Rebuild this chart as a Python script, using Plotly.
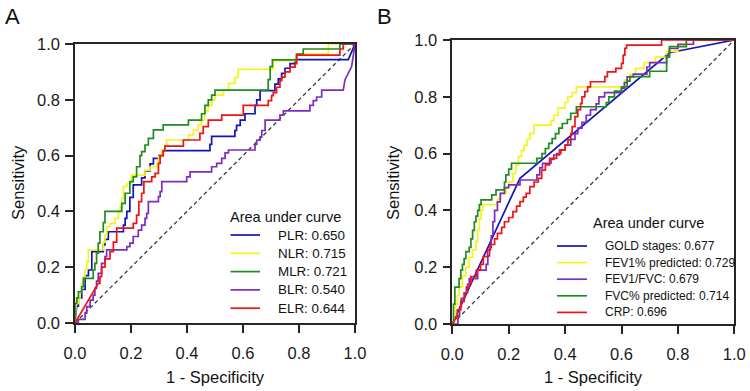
import plotly.graph_objects as go
from plotly.subplots import make_subplots

# ---------------- data (1 - specificity, sensitivity) ----------------
panel_a_names = ["PLR: 0.650", "NLR: 0.715", "MLR: 0.721", "BLR: 0.540", "ELR: 0.644"]
panel_b_names = ["GOLD stages: 0.677", "FEV1% predicted: 0.729", "FEV1/FVC: 0.679",
                 "FVC% predicted: 0.714", "CRP: 0.696"]

plr_roc = [(0,0),(0.006,0.06),(0.012,0.06),(0.012,0.09),(0.024,0.09),(0.024,0.12),(0.036,0.12),(0.036,0.17),
           (0.048,0.17),(0.048,0.19),(0.06,0.19),(0.06,0.256),(0.101,0.256),(0.101,0.28),(0.107,0.28),(0.107,0.30),
           (0.119,0.30),(0.119,0.327),(0.173,0.327),(0.173,0.351),(0.179,0.351),(0.179,0.375),(0.185,0.375),
           (0.185,0.40),(0.196,0.40),(0.196,0.45),(0.208,0.45),(0.208,0.495),(0.238,0.495),(0.238,0.52),
           (0.25,0.52),(0.25,0.545),(0.268,0.545),(0.268,0.57),(0.28,0.57),(0.28,0.59),(0.30,0.59),(0.30,0.60),
           (0.315,0.60),(0.315,0.618),(0.482,0.618),(0.482,0.64),(0.488,0.64),(0.488,0.669),(0.571,0.669),
           (0.571,0.69),(0.577,0.69),(0.577,0.708),(0.59,0.708),(0.59,0.727),(0.607,0.727),(0.607,0.75),
           (0.643,0.75),(0.643,0.78),(0.649,0.78),(0.649,0.80),(0.661,0.80),(0.661,0.833),(0.714,0.833),
           (0.714,0.856),(0.726,0.856),(0.726,0.875),(0.738,0.875),(0.738,0.895),(0.75,0.895),(0.75,0.913),
           (0.768,0.913),(0.768,0.93),(0.786,0.93),(0.786,0.944),(0.976,0.944),(1,1)]

nlr_roc = [(0,0),(0.004,0.07),(0.012,0.07),(0.012,0.09),(0.018,0.09),(0.018,0.112),(0.024,0.112),(0.024,0.14),
           (0.03,0.14),(0.03,0.166),(0.036,0.166),(0.036,0.19),(0.042,0.19),(0.042,0.22),(0.048,0.22),
           (0.048,0.262),(0.101,0.262),(0.101,0.29),(0.107,0.29),(0.107,0.315),(0.113,0.315),(0.113,0.345),
           (0.125,0.345),(0.125,0.357),(0.143,0.357),(0.143,0.375),(0.155,0.375),(0.155,0.40),(0.161,0.40),
           (0.161,0.417),(0.167,0.417),(0.167,0.447),(0.173,0.447),(0.173,0.489),(0.185,0.489),(0.185,0.50),
           (0.202,0.50),(0.202,0.53),(0.25,0.53),(0.25,0.548),(0.268,0.548),(0.268,0.56),(0.292,0.56),
           (0.292,0.572),(0.298,0.572),(0.298,0.596),(0.31,0.596),(0.31,0.62),(0.321,0.62),(0.321,0.638),
           (0.327,0.638),(0.327,0.656),(0.405,0.656),(0.405,0.674),(0.423,0.674),(0.423,0.692),(0.44,0.692),
           (0.44,0.71),(0.452,0.71),(0.452,0.727),(0.464,0.727),(0.464,0.76),(0.476,0.76),(0.476,0.78),
           (0.488,0.78),(0.488,0.799),(0.5,0.799),(0.5,0.817),(0.53,0.817),(0.53,0.835),(0.548,0.835),
           (0.548,0.859),(0.571,0.859),(0.571,0.88),(0.583,0.88),(0.583,0.909),(0.708,0.909),(0.708,0.94),
           (0.791,0.94),(0.791,0.964),(0.905,0.964),(0.905,1.0),(1,1)]

mlr_roc = [(0,0),(0,0.07),(0.006,0.07),(0.006,0.09),(0.012,0.09),(0.012,0.112),(0.024,0.112),(0.024,0.13),
           (0.03,0.13),(0.03,0.16),(0.065,0.16),(0.065,0.19),(0.071,0.19),(0.071,0.214),(0.077,0.214),
           (0.077,0.25),(0.083,0.25),(0.083,0.286),(0.089,0.286),(0.089,0.327),(0.101,0.327),(0.101,0.36),
           (0.107,0.36),(0.107,0.40),(0.167,0.40),(0.167,0.429),(0.179,0.429),(0.179,0.465),(0.196,0.465),
           (0.196,0.507),(0.208,0.507),(0.208,0.524),(0.22,0.524),(0.22,0.56),(0.232,0.56),(0.232,0.60),
           (0.238,0.60),(0.238,0.614),(0.25,0.614),(0.25,0.638),(0.262,0.638),(0.262,0.662),(0.28,0.662),
           (0.28,0.692),(0.315,0.692),(0.315,0.71),(0.405,0.71),(0.405,0.727),(0.452,0.727),(0.452,0.75),
           (0.464,0.75),(0.464,0.78),(0.476,0.78),(0.476,0.80),(0.488,0.80),(0.488,0.817),(0.5,0.817),
           (0.5,0.835),(0.69,0.835),(0.69,0.872),(0.697,0.872),(0.697,0.919),(0.705,0.919),(0.705,0.943),
           (0.791,0.943),(0.791,0.964),(0.815,0.964),(0.815,0.982),(0.946,0.982),(0.946,1.0),(1,1)]

blr_roc = [(0,0),(0.012,0),(0.012,0.013),(0.036,0.013),(0.036,0.035),(0.042,0.035),(0.042,0.059),(0.054,0.059),
           (0.054,0.082),(0.065,0.082),(0.065,0.10),(0.071,0.10),(0.071,0.124),(0.077,0.124),(0.077,0.15),
           (0.083,0.15),(0.083,0.178),(0.095,0.178),(0.095,0.214),(0.107,0.214),(0.107,0.238),(0.113,0.238),
           (0.113,0.262),(0.185,0.262),(0.185,0.274),(0.196,0.274),(0.196,0.286),(0.208,0.286),(0.208,0.31),
           (0.226,0.31),(0.226,0.333),(0.238,0.333),(0.238,0.351),(0.25,0.351),(0.25,0.375),(0.256,0.375),
           (0.256,0.393),(0.262,0.393),(0.262,0.435),(0.298,0.435),(0.298,0.453),(0.304,0.453),(0.304,0.471),
           (0.31,0.471),(0.31,0.507),(0.399,0.507),(0.399,0.524),(0.411,0.524),(0.411,0.542),(0.488,0.542),
           (0.488,0.56),(0.506,0.56),(0.506,0.572),(0.524,0.572),(0.524,0.59),(0.536,0.59),(0.536,0.61),
           (0.548,0.61),(0.548,0.62),(0.643,0.62),(0.643,0.64),(0.649,0.64),(0.649,0.655),(0.661,0.655),
           (0.661,0.667),(0.667,0.667),(0.667,0.69),(0.679,0.69),(0.679,0.727),(0.732,0.727),(0.732,0.745),
           (0.744,0.745),(0.744,0.76),(0.839,0.76),(0.839,0.78),(0.851,0.78),(0.851,0.797),(0.863,0.797),
           (0.863,0.81),(0.881,0.81),(0.881,0.835),(0.958,0.835),(0.964,0.871),(0.976,0.895),(0.988,0.919),(1,1)]

elr_roc = [(0,0),(0.083,0.142),(0.089,0.142),(0.089,0.166),(0.095,0.166),(0.095,0.20),(0.107,0.20),(0.107,0.23),
           (0.125,0.23),(0.125,0.256),(0.137,0.256),(0.137,0.29),(0.149,0.29),(0.149,0.34),(0.208,0.34),
           (0.208,0.357),(0.22,0.357),(0.22,0.387),(0.228,0.387),(0.228,0.435),(0.238,0.435),(0.238,0.465),
           (0.246,0.465),(0.246,0.507),(0.274,0.507),(0.274,0.524),(0.286,0.524),(0.286,0.536),(0.298,0.536),
           (0.298,0.572),(0.304,0.572),(0.304,0.60),(0.315,0.60),(0.315,0.618),(0.321,0.618),(0.321,0.634),
           (0.387,0.634),(0.387,0.656),(0.446,0.656),(0.446,0.68),(0.458,0.68),(0.458,0.704),(0.476,0.704),
           (0.476,0.727),(0.524,0.727),(0.524,0.745),(0.601,0.745),(0.601,0.78),(0.69,0.78),(0.69,0.797),
           (0.702,0.797),(0.702,0.815),(0.708,0.815),(0.708,0.826),(0.72,0.826),(0.72,0.845),(0.732,0.845),
           (0.732,0.869),(0.738,0.869),(0.738,0.881),(0.75,0.881),(0.75,0.90),(0.768,0.90),(0.768,0.917),
           (0.786,0.917),(0.786,0.93),(0.792,0.93),(0.792,0.96),(0.946,0.96),(0.946,0.982),(0.958,0.982),
           (0.958,1.0),(1,1)]

gold_roc = [(0,0),(0.24,0.513),(0.77,0.955),(1,1)]

fev1_roc = [(0,0),(0.006,0),(0.006,0.03),(0.012,0.03),(0.012,0.07),(0.018,0.07),(0.018,0.10),(0.024,0.10),
            (0.024,0.13),(0.036,0.13),(0.036,0.17),(0.048,0.17),(0.048,0.20),(0.06,0.20),(0.06,0.235),
            (0.072,0.235),(0.072,0.26),(0.084,0.26),(0.084,0.29),(0.09,0.29),(0.09,0.33),(0.096,0.33),
            (0.096,0.37),(0.102,0.37),(0.102,0.40),(0.108,0.40),(0.108,0.42),(0.16,0.42),(0.16,0.44),
            (0.172,0.44),(0.172,0.46),(0.19,0.46),(0.19,0.48),(0.2,0.48),(0.2,0.50),(0.215,0.50),(0.215,0.53),
            (0.225,0.53),(0.225,0.56),(0.235,0.56),(0.235,0.59),(0.245,0.59),(0.245,0.61),(0.255,0.61),
            (0.255,0.63),(0.265,0.63),(0.265,0.65),(0.275,0.65),(0.275,0.67),(0.29,0.67),(0.29,0.70),
            (0.35,0.70),(0.35,0.715),(0.36,0.715),(0.36,0.735),(0.375,0.735),(0.375,0.76),(0.4,0.76),
            (0.4,0.78),(0.41,0.78),(0.41,0.80),(0.425,0.80),(0.425,0.815),(0.44,0.815),(0.44,0.835),
            (0.612,0.835),(0.612,0.86),(0.63,0.86),(0.63,0.88),(0.65,0.88),(0.65,0.90),(0.68,0.90),
            (0.68,0.92),(0.72,0.92),(0.72,0.94),(0.76,0.94),(0.76,0.96),(0.8,0.96),(0.8,0.98),(0.83,0.98),
            (0.83,1.0),(1,1)]

ratio_roc = [(0,0),(0.02,0),(0.02,0.03),(0.026,0.03),(0.026,0.06),(0.032,0.06),(0.032,0.09),(0.044,0.09),
             (0.044,0.11),(0.05,0.11),(0.05,0.13),(0.06,0.13),(0.06,0.16),(0.09,0.16),(0.09,0.19),(0.12,0.19),
             (0.12,0.21),(0.126,0.21),(0.126,0.24),(0.132,0.24),(0.132,0.27),(0.138,0.27),(0.138,0.31),
             (0.144,0.31),(0.144,0.36),(0.15,0.36),(0.15,0.40),(0.16,0.40),(0.16,0.43),(0.17,0.43),(0.17,0.46),
             (0.185,0.46),(0.185,0.48),(0.2,0.48),(0.2,0.49),(0.24,0.49),(0.24,0.507),(0.3,0.507),(0.3,0.525),
             (0.31,0.525),(0.31,0.55),(0.32,0.55),(0.32,0.566),(0.35,0.566),(0.35,0.58),(0.36,0.58),
             (0.36,0.595),(0.38,0.595),(0.38,0.613),(0.4,0.613),(0.4,0.63),(0.42,0.63),(0.42,0.65),(0.435,0.65),
             (0.435,0.67),(0.445,0.67),(0.445,0.69),(0.46,0.69),(0.46,0.71),(0.475,0.71),(0.475,0.735),
             (0.49,0.735),(0.49,0.755),(0.51,0.755),(0.51,0.775),(0.52,0.775),(0.52,0.80),(0.54,0.80),
             (0.54,0.815),(0.6,0.815),(0.6,0.83),(0.61,0.83),(0.61,0.85),(0.62,0.85),(0.62,0.87),(0.642,0.87),
             (0.642,0.88),(0.69,0.88),(0.69,0.905),(0.7,0.905),(0.7,0.92),(0.76,0.92),(0.76,0.945),(0.77,0.945),
             (0.77,0.97),(0.8,0.97),(0.8,0.985),(0.855,0.985),(0.855,1.0),(1,1)]

fvc_roc = [(0,0),(0.004,0),(0.004,0.07),(0.009,0.07),(0.009,0.13),(0.024,0.13),(0.024,0.16),(0.03,0.16),
           (0.03,0.19),(0.036,0.19),(0.036,0.21),(0.042,0.21),(0.042,0.23),(0.048,0.23),(0.048,0.255),
           (0.06,0.255),(0.06,0.27),(0.066,0.27),(0.066,0.30),(0.072,0.30),(0.072,0.33),(0.078,0.33),
           (0.078,0.36),(0.084,0.36),(0.084,0.38),(0.09,0.38),(0.09,0.40),(0.096,0.40),(0.096,0.42),
           (0.102,0.42),(0.102,0.437),(0.14,0.437),(0.14,0.455),(0.155,0.455),(0.155,0.472),(0.185,0.472),
           (0.185,0.50),(0.19,0.50),(0.19,0.525),(0.2,0.525),(0.2,0.545),(0.21,0.545),(0.21,0.566),(0.3,0.566),
           (0.3,0.583),(0.318,0.583),(0.318,0.60),(0.33,0.60),(0.33,0.618),(0.342,0.618),(0.342,0.636),
           (0.354,0.636),(0.354,0.653),(0.366,0.653),(0.366,0.67),(0.378,0.67),(0.378,0.69),(0.39,0.69),
           (0.39,0.706),(0.408,0.706),(0.408,0.72),(0.42,0.72),(0.42,0.742),(0.44,0.742),(0.44,0.765),
           (0.546,0.765),(0.546,0.78),(0.555,0.78),(0.555,0.80),(0.575,0.80),(0.575,0.82),(0.6,0.82),
           (0.6,0.835),(0.62,0.835),(0.62,0.855),(0.63,0.855),(0.63,0.871),(0.7,0.871),(0.7,0.89),(0.76,0.89),
           (0.76,0.94),(0.77,0.94),(0.77,0.977),(0.83,0.977),(0.83,1.0),(1,1)]

crp_roc = [(0,0),(0.012,0.02),(0.018,0.02),(0.018,0.05),(0.03,0.05),(0.03,0.08),(0.042,0.08),(0.042,0.11),
           (0.054,0.11),(0.054,0.14),(0.066,0.14),(0.066,0.167),(0.085,0.167),(0.085,0.19),(0.1,0.19),
           (0.1,0.21),(0.11,0.21),(0.11,0.237),(0.125,0.237),(0.125,0.26),(0.135,0.26),(0.135,0.28),
           (0.15,0.28),(0.15,0.30),(0.16,0.30),(0.16,0.319),(0.175,0.319),(0.175,0.34),(0.185,0.34),
           (0.185,0.36),(0.2,0.36),(0.2,0.375),(0.215,0.375),(0.215,0.396),(0.228,0.396),(0.228,0.415),
           (0.24,0.415),(0.24,0.431),(0.252,0.431),(0.252,0.447),(0.262,0.447),(0.262,0.46),(0.275,0.46),
           (0.275,0.484),(0.29,0.484),(0.29,0.50),(0.305,0.50),(0.305,0.513),(0.317,0.513),(0.317,0.542),
           (0.33,0.542),(0.33,0.56),(0.345,0.56),(0.345,0.583),(0.37,0.583),(0.37,0.60),(0.385,0.60),
           (0.385,0.613),(0.4,0.613),(0.4,0.63),(0.41,0.63),(0.41,0.648),(0.42,0.648),(0.42,0.67),(0.425,0.67),
           (0.425,0.695),(0.435,0.695),(0.435,0.73),(0.445,0.73),(0.445,0.755),(0.455,0.755),(0.455,0.777),
           (0.46,0.777),(0.46,0.80),(0.47,0.80),(0.47,0.818),(0.48,0.818),(0.48,0.835),(0.49,0.835),
           (0.49,0.853),(0.541,0.853),(0.541,0.871),(0.55,0.871),(0.55,0.888),(0.58,0.888),(0.58,0.90),
           (0.6,0.90),(0.6,0.918),(0.606,0.918),(0.606,0.947),(0.612,0.947),(0.612,0.971),(0.618,0.971),
           (0.618,0.982),(0.742,0.982),(0.742,1.0),(1,1)]

reference_line = [(0, 0), (1, 1)]
tick_vals = [0.0, 0.2, 0.4, 0.6, 0.8, 1.0]
tick_text = ["0.0", "0.2", "0.4", "0.6", "0.8", "1.0"]

BLUE, YELLOW, GREEN, PURPLE, RED = "#1414B4", "#F4F41E", "#1F8C1F", "#7B2DC2", "#F01414"
panel_a_colors = [BLUE, YELLOW, GREEN, PURPLE, RED]
panel_b_colors = [BLUE, YELLOW, PURPLE, GREEN, RED]
panel_a_series = [plr_roc, nlr_roc, mlr_roc, blr_roc, elr_roc]
panel_b_series = [gold_roc, fev1_roc, ratio_roc, fvc_roc, crp_roc]

FONT = "Arial, 'Liberation Sans', sans-serif"
W, H = 750, 391


def px(x):
    return x / W


def py(y):
    return 1 - y / H


fig = make_subplots(rows=1, cols=2)


def add_panel(series, names, colors, col):
    xs, ys = zip(*reference_line)
    fig.add_trace(go.Scatter(x=xs, y=ys, mode="lines", showlegend=False, hoverinfo="skip",
                             line=dict(color="#3a3a3a", width=1.3, dash="4px,3px")), row=1, col=col)
    for pts, name, c in zip(series, names, colors):
        xs, ys = zip(*pts)
        fig.add_trace(go.Scatter(x=xs, y=ys, mode="lines", name=name, showlegend=False,
                                 line=dict(color=c, width=1.7)), row=1, col=col)


add_panel(panel_a_series, panel_a_names, panel_a_colors, 1)
add_panel(panel_b_series, panel_b_names, panel_b_colors, 2)

axis_common = dict(range=[0, 1], tickvals=tick_vals, ticktext=tick_text, showgrid=False, zeroline=False,
                   showline=True, linecolor="#262626", linewidth=1.6, mirror=True, automargin=False,
                   ticks="outside", ticklen=8, tickwidth=1.6, tickcolor="#262626",
                   tickfont=dict(family=FONT, size=16.5, color="#1a1a1a"))

fig.update_layout(
    template="none",
    width=W, height=H, margin=dict(l=0, r=0, t=0, b=0, pad=0, autoexpand=False),
    paper_bgcolor="white", plot_bgcolor="white", showlegend=False,
    xaxis=dict(domain=[px(75), px(355)], ticklabelstandoff=6, **axis_common),
    yaxis=dict(domain=[py(323), py(44)], ticklabelstandoff=2, **axis_common),
    xaxis2=dict(domain=[px(452.3), px(734.3)], ticklabelstandoff=6, **axis_common),
    yaxis2=dict(domain=[py(324), py(40)], ticklabelstandoff=2, **axis_common),
)

annotations = []
shapes = []


def text(x, y, s, size, xanchor="center", angle=0):
    annotations.append(dict(x=px(x), y=py(y), xref="paper", yref="paper", text=s, showarrow=False,
                            xanchor=xanchor, yanchor="middle", textangle=angle, borderpad=0,
                            font=dict(family=FONT, size=size, color="#111111")))


# panel letters and axis titles
text(12, 16, "A", 22)
text(384, 16, "B", 22)
text(18, 183, "Sensitivity", 16.5, angle=-90)
text(393, 183, "Sensitivity", 16.5, angle=-90)
text(215, 377, "1 - Specificity", 16.5)
text(593, 377, "1 - Specificity", 16.5)

# legend A
text(229, 217, "Area under curve", 14.5, xanchor="left")
for i, (name, c) in enumerate(zip(panel_a_names, panel_a_colors)):
    yy = 235 + i * 18.3
    shapes.append(dict(type="line", xref="paper", yref="paper", x0=px(230.5), x1=px(260),
                       y0=py(yy), y1=py(yy), line=dict(color=c, width=1.7)))
    text(277, yy, name, 13.4, xanchor="left")

# legend B
text(592, 223, "Area under curve", 14.5, xanchor="left")
for i, (name, c) in enumerate(zip(panel_b_names, panel_b_colors)):
    yy = 246 + i * 16.6
    shapes.append(dict(type="line", xref="paper", yref="paper", x0=px(557), x1=px(587),
                       y0=py(yy), y1=py(yy), line=dict(color=c, width=1.7)))
    text(603.5, yy, name, 12, xanchor="left")

fig.update_layout(annotations=annotations, shapes=shapes)
fig.write_html("out.html", config={"displayModeBar": False},
               post_script="document.body.style.margin='0px';document.body.style.overflow='hidden';")
